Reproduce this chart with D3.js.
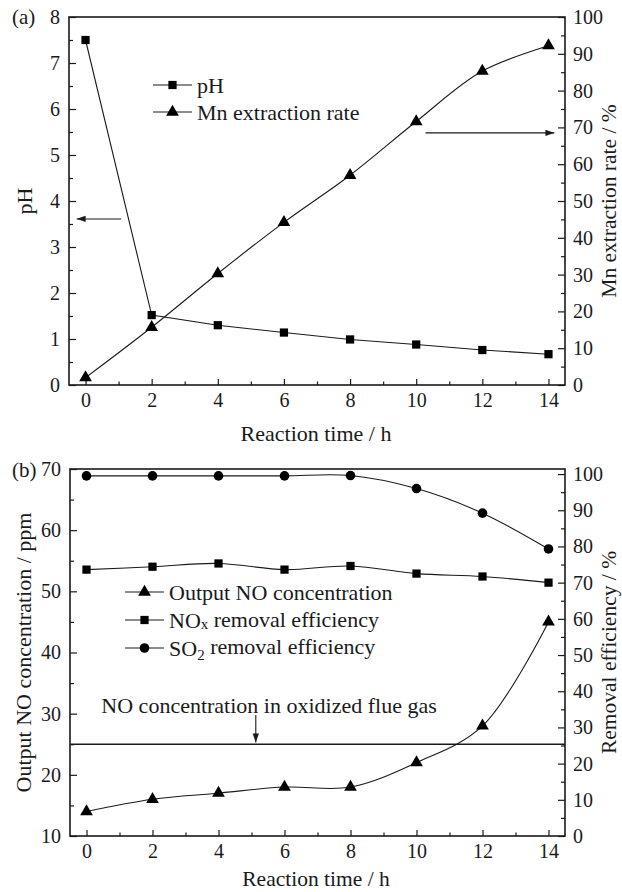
<!DOCTYPE html>
<html>
<head>
<meta charset="utf-8">
<script src="https://cdn.jsdelivr.net/npm/d3@7"></script>
<style>
  body { margin: 0; background: #fff; }
  svg text { font-family: "Liberation Serif", "Times New Roman", serif; fill: #1a1a1a; }
</style>
</head>
<body>
<div id="chart"></div>
<script>
// data
var hours = [0, 2, 4, 6, 8, 10, 12, 14]
var phValues = [7.5, 1.52, 1.30, 1.14, 0.99, 0.88, 0.76, 0.67]
var mnRate = [2, 15.7, 30.3, 44.2, 57, 71.6, 85.3, 92.2]
var noConc = [14, 16, 17, 18, 18, 22, 28, 45]
var noxEff = [73.6, 74.4, 75.3, 73.6, 74.6, 72.5, 71.7, 70]
var so2Eff = [99.5, 99.5, 99.5, 99.5, 99.6, 96, 89.2, 79.3]
var noInlet = 25

var xTicks = [0, 2, 4, 6, 8, 10, 12, 14]
var phTicks = [0, 1, 2, 3, 4, 5, 6, 7, 8]
var mnTicks = [0, 10, 20, 30, 40, 50, 60, 70, 80, 90, 100]
var noTicks = [10, 20, 30, 40, 50, 60, 70]
var effTicks = [0, 10, 20, 30, 40, 50, 60, 70, 80, 90, 100]

var width = 622, height = 892
var ink = "#1a1a1a"

var svg = d3.select("#chart").append("svg")
    .attr("width", width)
    .attr("height", height)

var defs = svg.append("defs")
defs.append("marker")
    .attr("id", "head")
    .attr("viewBox", "0 0 10 10")
    .attr("refX", 10).attr("refY", 5)
    .attr("markerWidth", 9).attr("markerHeight", 9)
    .attr("markerUnits", "userSpaceOnUse")
    .attr("orient", "auto")
  .append("path")
    .attr("d", "M0,1.5 L10,5 L0,8.5 Z")
    .attr("fill", ink)

function minors(ticks) {
    var out = []
    for (var i = 0; i < ticks.length - 1; i++) out.push((ticks[i] + ticks[i + 1]) / 2)
    return out
}

function drawAxes(g, x, yL, yR, yLTicks, yRTicks, box) {
    var bottom = g.append("g").attr("transform", `translate(0, ${box.bottom})`)
    bottom.call(d3.axisBottom(x).tickValues(xTicks).tickSize(-6).tickPadding(8))
    bottom.append("g").call(d3.axisBottom(x).tickValues(minors(xTicks)).tickSize(-3.5).tickFormat(""))

    var left = g.append("g").attr("transform", `translate(${box.left}, 0)`)
    left.call(d3.axisLeft(yL).tickValues(yLTicks).tickSize(-7).tickPadding(9))
    left.append("g").call(d3.axisLeft(yL).tickValues(minors(yLTicks)).tickSize(-4).tickFormat(""))

    var right = g.append("g").attr("transform", `translate(${box.right}, 0)`)
    right.call(d3.axisRight(yR).tickValues(yRTicks).tickSize(-7).tickPadding(8))
    right.append("g").call(d3.axisRight(yR).tickValues(minors(yRTicks)).tickSize(-4).tickFormat(""))

    g.selectAll(".domain").remove()
    g.selectAll(".tick line").attr("stroke", ink).attr("stroke-width", 1.2)
    g.selectAll(".tick text").attr("font-size", 20).attr("fill", ink)
        .style("font-family", '"Liberation Serif", "Times New Roman", serif')

    g.append("rect")
        .attr("x", box.left).attr("y", box.top)
        .attr("width", box.right - box.left).attr("height", box.bottom - box.top)
        .attr("fill", "none").attr("stroke", ink).attr("stroke-width", 1.6)
}

function drawSeries(g, x, y, values, curve, shape) {
    var pts = hours.map((h, i) => [h, values[i]])
    g.append("path")
        .datum(pts)
        .attr("fill", "none")
        .attr("stroke", ink)
        .attr("stroke-width", 1.1)
        .attr("d", d3.line().x(d => x(d[0])).y(d => y(d[1])).curve(curve))
    g.selectAll(null).data(pts).enter().append("path")
        .attr("transform", d => `translate(${x(d[0])}, ${y(d[1])})`)
        .attr("d", shape)
        .attr("fill", "#000")
}

var square = d3.symbol().type(d3.symbolSquare).size(68)()
var triangle = d3.symbol().type(d3.symbolTriangle).size(70)()
var circle = d3.symbol().type(d3.symbolCircle).size(72)()

function legendRow(g, x0, y0, shape, label) {
    g.append("line").attr("x1", x0).attr("x2", x0 + 39).attr("y1", y0).attr("y2", y0)
        .attr("stroke", ink).attr("stroke-width", 1.1)
    g.append("path").attr("transform", `translate(${x0 + 19.5}, ${y0})`).attr("d", shape).attr("fill", "#000")
    return g.append("text").attr("x", x0 + 44).attr("y", y0).attr("dy", "0.35em")
        .attr("font-size", 22).text(label)
}

function arrow(g, x1, y1, x2, y2) {
    g.append("line").attr("x1", x1).attr("y1", y1).attr("x2", x2).attr("y2", y2)
        .attr("stroke", ink).attr("stroke-width", 1.1).attr("marker-end", "url(#head)")
}

// ---------- panel (a) ----------
var boxA = {left: 69, right: 565, top: 17, bottom: 385}
var gA = svg.append("g")
var xA = d3.scaleLinear().domain([-0.5, 14.5]).range([boxA.left, boxA.right])
var phScale = d3.scaleLinear().domain([0, 8]).range([boxA.bottom, boxA.top])
var mnScale = d3.scaleLinear().domain([0, 100]).range([boxA.bottom, boxA.top])

drawAxes(gA, xA, phScale, mnScale, phTicks, mnTicks, boxA)
drawSeries(gA, xA, phScale, phValues, d3.curveLinear, square)
drawSeries(gA, xA, mnScale, mnRate, d3.curveCatmullRom.alpha(0.5), triangle)

legendRow(gA, 153, 85, square, "pH")
legendRow(gA, 153, 112, triangle, "Mn extraction rate")

arrow(gA, xA(1.08), phScale(3.61), xA(-0.27), phScale(3.61))
arrow(gA, xA(10.28), mnScale(68.5), xA(14.18), mnScale(68.5))

gA.append("text").attr("x", 12).attr("y", 17).attr("dy", "0.35em").attr("font-size", 21).text("(a)")
gA.append("text").attr("transform", `translate(24, ${(boxA.top + boxA.bottom) / 2}) rotate(-90)`)
    .attr("text-anchor", "middle").attr("dy", "0.35em").attr("font-size", 22).text("pH")
gA.append("text").attr("transform", `translate(608, ${(boxA.top + boxA.bottom) / 2}) rotate(-90)`)
    .attr("text-anchor", "middle").attr("dy", "0.35em").attr("font-size", 21.5).text("Mn extraction rate / %")
gA.append("text").attr("x", 316).attr("y", 433).attr("dy", "0.35em")
    .attr("text-anchor", "middle").attr("font-size", 22).text("Reaction time / h")

// ---------- panel (b) ----------
var boxB = {left: 70, right: 565, top: 469, bottom: 836}
var gB = svg.append("g")
var xB = d3.scaleLinear().domain([-0.5, 14.5]).range([boxB.left, boxB.right])
var noScale = d3.scaleLinear().domain([10, 70]).range([boxB.bottom, boxB.top])
var effScale = d3.scaleLinear().domain([0, 101.4]).range([boxB.bottom, boxB.top])

drawAxes(gB, xB, noScale, effScale, noTicks, effTicks, boxB)

gB.append("line")
    .attr("x1", boxB.left).attr("x2", boxB.right)
    .attr("y1", noScale(noInlet)).attr("y2", noScale(noInlet))
    .attr("stroke", ink).attr("stroke-width", 1.3)

drawSeries(gB, xB, effScale, so2Eff, d3.curveCatmullRom.alpha(0.5), circle)
drawSeries(gB, xB, effScale, noxEff, d3.curveCatmullRom.alpha(0.5), square)
drawSeries(gB, xB, noScale, noConc, d3.curveCatmullRom.alpha(0.5), triangle)

legendRow(gB, 125, 592, triangle, "Output NO concentration")
var noxText = legendRow(gB, 125, 620, square, "NO")
noxText.append("tspan").attr("font-size", 15).attr("dy", "0.1em").text("x")
noxText.append("tspan").attr("dy", "-0.1em").text(" removal efficiency")
var so2Text = legendRow(gB, 125, 648, circle, "SO")
so2Text.append("tspan").attr("font-size", 15).attr("dy", "0.3em").text("2")
so2Text.append("tspan").attr("dy", "-0.3em").text(" removal efficiency")

gB.append("text").attr("x", xB(0.45)).attr("y", noScale(31.4)).attr("dy", "0.35em")
    .attr("font-size", 22).text("NO concentration in oxidized flue gas")
arrow(gB, xB(5.13), noScale(29.8), xB(5.13), noScale(25.3))

gB.append("text").attr("x", 12).attr("y", 470).attr("dy", "0.35em").attr("font-size", 21).text("(b)")
gB.append("text").attr("transform", `translate(23, ${(boxB.top + boxB.bottom) / 2}) rotate(-90)`)
    .attr("text-anchor", "middle").attr("dy", "0.35em").attr("font-size", 22).text("Output NO concentration / ppm")
gB.append("text").attr("transform", `translate(608, ${(boxB.top + boxB.bottom) / 2}) rotate(-90)`)
    .attr("text-anchor", "middle").attr("dy", "0.35em").attr("font-size", 21.5).text("Removal efficiency / %")
gB.append("text").attr("x", 316).attr("y", 878).attr("dy", "0.35em")
    .attr("text-anchor", "middle").attr("font-size", 21.5).text("Reaction time / h")
</script>
</body>
</html>
